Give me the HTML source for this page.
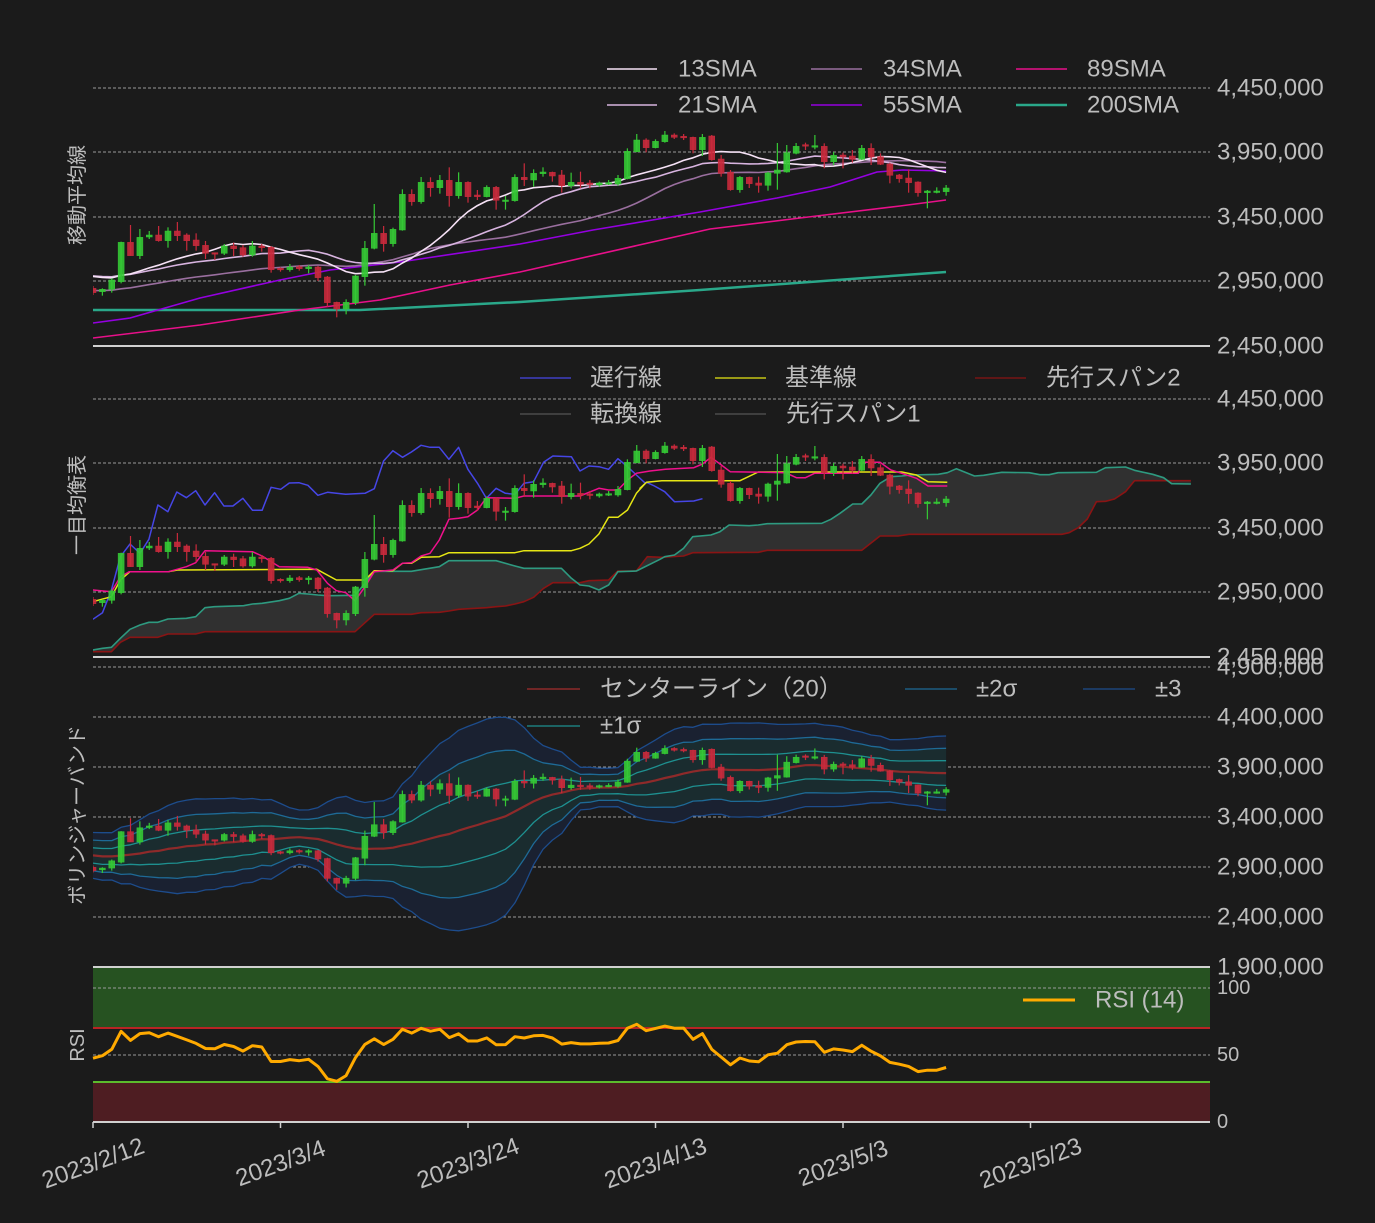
<!DOCTYPE html>
<html><head><meta charset="utf-8">
<style>
html,body{margin:0;padding:0;background:#1b1b1b;}
svg{display:block;}
text{font-family:"Liberation Sans","Noto Sans CJK JP",sans-serif;fill:#bdbdbd;}
</style></head>
<body>
<svg id="s" width="1375" height="1223" xmlns="http://www.w3.org/2000/svg"></svg>
<script>
const S=document.getElementById('s');let h='';
const X0=93,DX=9.375;
function p1(y){return 4450000-(y-88)*2e6/258}
function y1(p){return 88+(4450000-p)*258/2e6}
function y2(p){return 399+(4450000-p)*258/2e6}
function y3(p){return 667+(4900000-p)/1e4}
const Z1=[[445,458,438,465,'r'],[448,455,445,467,'g'],[420,448,415,458,'g'],[307,425,305,430,'g'],[307,347,255,347,'r'],[292,347,267,357,'g'],[285,291,273,297,'g'],[285,302,258,305,'r'],[273,302,262,323,'g'],[273,287,246,303,'r'],[285,302,280,332,'r'],[300,317,280,332,'r'],[316,340,303,357,'r'],[338,341,338,360,'r'],[318,340,312,345,'g'],[318,326,308,348,'r'],[323,345,315,350,'r'],[318,345,303,350,'g'],[318,323,312,335,'r'],[322,389,318,398,'r'],[385,389,382,395,'r'],[381,389,372,395,'g'],[380,386,375,392,'r'],[381,386,375,400,'g'],[381,413,378,423,'r'],[411,488,408,500,'r'],[487,507,485,532,'r'],[487,507,478,523,'g'],[408,488,405,495,'g'],[325,410,303,437,'g'],[280,325,192,328,'g'],[280,311,258,335,'r'],[268,311,263,320,'g'],[163,270,148,272,'g'],[163,185,148,197,'r'],[127,185,111,191,'g'],[127,143,112,170,'r'],[121,143,105,161,'g'],[121,167,82,200,'r'],[127,167,97,176,'g'],[127,170,124,188,'r'],[165,170,150,180,'r'],[142,170,136,172,'g'],[142,181,138,209,'r'],[180,182,168,209,'g']];
const Z2=[[172,242,163,245,'g'],[172,179,130,198,'r'],[160,180,148,200,'g'],[156,161,142,170,'g'],[157,168,155,185,'r'],[165,197,150,218,'r'],[187,197,158,205,'g'],[187,193,155,205,'r'],[189,193,180,205,'r'],[189,195,185,200,'g'],[188,190,180,195,'g'],[175,192,165,197,'g'],[94,176,85,178,'g'],[60,95,42,97,'g'],[60,83,55,97,'r'],[64,83,58,85,'g'],[45,65,33,68,'g'],[45,52,40,57,'r'],[49,51,42,60,'r'],[52,89,50,100,'r'],[52,89,42,108,'g'],[48,119,45,122,'r'],[117,160,105,170,'r'],[157,209,150,212,'r'],[172,209,168,218,'g'],[172,191,170,204,'r'],[189,196,170,218,'r'],[159,196,155,212,'g'],[150,160,69,209,'g'],[98,156,75,158,'g'],[79,100,69,103,'g'],[74,76,68,90,'r'],[77,79,45,88,'g'],[79,125,70,145,'r'],[106,125,96,135,'g'],[105,111,98,145,'r'],[108,118,90,128,'r'],[85,118,75,120,'g'],[85,111,70,135,'r'],[110,133,100,135,'r'],[132,166,128,190,'r'],[165,176,162,188,'r'],[174,188,148,218,'r'],[186,218,184,230,'r'],[213,218,210,265,'g'],[213,215,202,220,'g'],[204,215,195,227,'g']];
const C=[];
Z1.forEach(a=>C.push({t:p1(140+a[0]/3),b:p1(140+a[1]/3),hi:p1(140+a[2]/3),lo:p1(140+a[3]/3),g:a[4]=='g'}));
Z2.forEach(a=>C.push({t:p1(120+a[0]/3),b:p1(120+a[1]/3),hi:p1(120+a[2]/3),lo:p1(120+a[3]/3),g:a[4]=='g'}));
C.forEach(c=>{c.c=c.g?c.t:c.b;});
const N=C.length, xs=i=>X0+i*DX;
function pl(pts,col,w,extra){return `<polyline fill="none" stroke="${col}" stroke-width="${w}" stroke-linejoin="round" ${extra||''} points="${pts.map(p=>p[0].toFixed(1)+','+p[1].toFixed(1)).join(' ')}"/>`;}
function grid(y){return `<line x1="93" x2="1210" y1="${y}" y2="${y}" stroke="#9a9a9a" stroke-width="1" stroke-dasharray="3,2"/>`;}
function candles(yf){let s='';C.forEach((c,i)=>{const x=xs(i),col=c.g?'#35c935':'#c92a3c';
 s+=`<line x1="${x}" x2="${x}" y1="${yf(c.hi)}" y2="${yf(c.lo)}" stroke="${col}" stroke-width="1.2"/>`;
 let a=yf(c.t),b=yf(c.b);if(b-a<1.5)b=a+1.5;
 s+=`<rect x="${x-3}" y="${a}" width="6" height="${b-a}" fill="${col}" stroke="${col}" stroke-width="0.5" fill-opacity="0.9"/>`;});return s;}
function sma(n,P){const o=[];for(let i=0;i<N;i++){let s=0;for(let j=i-n+1;j<=i;j++)s+=j<0?P:C[j].c;o.push(s/n);}return o;}
[88,152,217,281].forEach(y=>h+=grid(y));
[399,463,528,592].forEach(y=>h+=grid(y));
[667,717,767,817,867,917].forEach(y=>h+=grid(y));
h+='<clipPath id="c1"><rect x="93" y="40" width="1117" height="306"/></clipPath><g clip-path="url(#c1)">';
h+=pl([[93,310],[300,310],[360,310],[520,302],[700,290],[946,272]],'#2aa88a',2.5);
h+=pl([[93,338],[200,325],[300,310],[380,300],[450,285],[520,272],[710,229],[800,218],[900,206],[946,200]],'#e8108a',1.6);
h+=pl([[93,323],[130,318],[200,298],[280,280],[330,270],[400,262],[520,244],[593,230],[700,212],[777,198],[830,187],[877,172],[903,170],[946,171]],'#9400e0',1.6);
[[34,2.88e6,'#9a6f9f'],[21,3.0e6,'#d8b4e0'],[13,3.0e6,'#f6e2f6']].forEach(([n,P,col])=>{const s=sma(n,P);h+=pl(s.map((v,i)=>[xs(i),y1(v)]),col,1.6);});
h+=candles(y1);
h+='</g>';
h+='<line x1="93" x2="1210" y1="346" y2="346" stroke="#d0d0d0" stroke-width="2"/>';
const z3=a=>a.map(p=>[90+p[0]/2.8,430+p[1]/3]), z4=a=>a.map(p=>[640+p[0]/2.75,430+p[1]/3]);
const sp1=z3([[8,660],[35,655],[60,652],[85,625],[112,598],[140,585],[165,577],[190,577],[218,567],[270,565],[296,560],[322,533],[348,530],[430,527],[455,522],[482,520],[530,512],[558,505],[585,490],[610,492],[638,495],[665,497],[742,496],[770,460],[796,424],[848,424],[900,424],[927,419],[978,410],[1005,392],[1137,392],[1190,408],[1215,415],[1320,415],[1348,445],[1372,465],[1397,468],[1425,480],[1452,465],[1478,425],[1530,423]]).concat(z4([[55,388],[68,380],[95,375],[120,355],[145,320],[195,315],[220,305],[245,285],[300,287],[325,285],[350,281],[500,280],[525,268],[550,250],[585,222],[610,222],[635,195],[660,160],[690,140],[720,138],[745,135],[820,133],[845,128],[870,116],[920,138],[945,136],[995,127],[1070,128],[1100,134],[1125,134],[1150,128],[1255,127],[1280,113],[1335,111],[1360,121],[1410,133],[1440,143],[1462,161],[1515,162]]));
const sp2=z3([[8,665],[60,665],[85,637],[112,622],[190,622],[218,612],[296,612],[322,605],[742,605],[796,553],[900,553],[927,548],[978,547],[1005,543],[1032,538],[1110,533],[1137,530],[1163,528],[1190,522],[1215,515],[1242,502],[1270,475],[1296,458],[1372,458],[1397,452],[1452,450],[1478,423],[1530,423]]).concat(z4([[20,380],[60,382],[120,378],[145,368],[325,367],[350,361],[610,361],[660,318],[710,318],[740,313],[1160,313],[1180,308],[1205,293],[1230,267],[1255,215],[1280,214],[1305,207],[1335,185],[1360,152],[1515,152]]));
const tenkan=z3([[8,480],[60,485],[85,440],[110,425],[220,425],[270,410],[296,398],[322,362],[455,365],[482,378],[530,410],[610,412],[635,420],[665,460],[690,482],[716,488],[742,512],[770,470],[796,425],[848,420],[875,400],[900,398],[927,378],[952,370],[978,330],[1005,268],[1032,265],[1058,260],[1085,240],[1110,203],[1190,205],[1215,198],[1372,198],[1425,175],[1452,180],[1478,180],[1505,150],[1530,130],[1568,123]]).concat(z4([[70,118],[148,113],[172,102],[195,82],[220,102],[248,125],[400,128],[430,143],[455,143],[480,130],[600,130],[612,97],[660,97],[690,120],[720,130],[760,145],[792,168],[845,168]]));
const kijun=z3([[8,515],[60,500],[85,450],[112,425],[220,425],[245,420],[635,418],[690,450],[770,450],[796,422],[848,422],[875,400],[900,400],[927,382],[978,380],[1005,368],[1190,368],[1215,362],[1348,362],[1372,355],[1397,342],[1425,312],[1452,262],[1478,262],[1505,240],[1530,190],[1555,160]]).concat(z4([[0,175],[18,157],[60,152],[275,152],[325,126],[720,126],[760,135],[792,155],[845,157]]));
const chikou=z3([[8,568],[35,548],[60,480],[85,380],[112,342],[140,370],[165,328],[190,225],[218,245],[243,186],[270,203],[296,182],[322,225],[349,188],[375,228],[400,228],[428,205],[455,241],[482,241],[507,172],[534,178],[558,159],[585,158],[610,166],[638,196],[665,187],[690,190],[716,193],[770,190],[796,176],[822,93],[848,62],[875,82],[900,66],[927,46],[952,52],[978,52],[1005,88],[1032,52],[1058,118],[1085,160],[1110,205],[1137,175],[1163,190],[1190,193],[1215,160],[1242,155],[1270,97],[1296,78],[1348,80],[1372,123],[1397,108],[1425,110],[1452,118],[1478,86],[1505,110],[1530,135],[1555,160]]).concat(z4([[0,175],[18,157],[40,168],[68,185],[95,215],[148,213],[172,206]]));
h+='<clipPath id="c2"><rect x="93" y="360" width="1117" height="297"/></clipPath><g clip-path="url(#c2)">';
h+=`<polygon fill="#303030" points="${sp1.concat(sp2.slice().reverse()).map(p=>p[0].toFixed(1)+','+p[1].toFixed(1)).join(' ')}"/>`;
h+=pl(sp2,'#8a1414',1.6)+pl(sp1,'#2e9a80',1.6);
h+=pl(chikou,'#4646e6',1.5);
h+=pl(kijun,'#e6e614',1.5);
h+=pl(tenkan,'#f0108c',1.5);
h+=candles(y2);
h+='</g><line x1="93" x2="1210" y1="657" y2="657" stroke="#d0d0d0" stroke-width="2"/>';
function padv(k){return 3.02e6+((k&1)?70000:-70000);}
const mid=[],sd=[];
for(let i=0;i<N;i++){let v=[];for(let j=i-19;j<=i;j++)v.push(j<0?padv(-j):C[j].c);const m=v.reduce((a,b)=>a+b)/20;const s=Math.sqrt(v.reduce((a,b)=>a+(b-m)*(b-m),0)/20);mid.push(m);sd.push(s);}
const band=k=>mid.map((m,i)=>[xs(i),y3(m+k*sd[i])]);
function area(a,b,f){return `<polygon fill="${f}" points="${a.concat(b.slice().reverse()).map(p=>p[0].toFixed(1)+','+p[1].toFixed(1)).join(' ')}"/>`;}
h+='<clipPath id="c3"><rect x="93" y="667" width="1117" height="300"/></clipPath><g clip-path="url(#c3)">';
h+=area(band(3),band(-3),'#1a2131');
h+=area(band(2),band(-2),'#1a2c2f');
h+=pl(band(3),'#1d4c8c',1.3)+pl(band(-3),'#1d4c8c',1.3);
h+=pl(band(2),'#1e6a96',1.3)+pl(band(-2),'#1e6a96',1.3);
h+=pl(band(1),'#1e9090',1.3)+pl(band(-1),'#1e9090',1.3);
h+=pl(mid.map((m,i)=>[xs(i),y3(m)]),'#8e2a2a',2.2);
h+=candles(y3);
h+='</g>';
h+='<rect x="93" y="967" width="1117" height="61" fill="#265221"/>';
h+='<rect x="93" y="1082" width="1117" height="40" fill="#4e1d22"/>';
[988,1055].forEach(y=>h+=grid(y));
h+='<line x1="93" x2="1210" y1="1028" y2="1028" stroke="#b82424" stroke-width="2"/>';
h+='<line x1="93" x2="1210" y1="1082" y2="1082" stroke="#5cbc2c" stroke-width="2"/>';
let ag=28000,al=28000,prev=2.9e6;const rsi=[];
for(let i=0;i<N;i++){const d=C[i].c-prev;prev=C[i].c;ag=(ag*13+Math.max(d,0))/14;al=(al*13+Math.max(-d,0))/14;rsi.push(100-100/(1+ag/al));}
h+=pl(rsi.map((v,i)=>[xs(i),1122-v*1.34]),'#ffaa00',3);
h+='<line x1="93" x2="1210" y1="967" y2="967" stroke="#d0d0d0" stroke-width="2"/>';
h+='<line x1="93" x2="1210" y1="1122" y2="1122" stroke="#d0d0d0" stroke-width="2"/>';
function yl(t,y,fs){h+=`<text x="1217" y="${y}" font-size="${fs||24}" dominant-baseline="central">${t}</text>`;}
[['4,450,000',88],['3,950,000',152],['3,450,000',217],['2,950,000',281],['2,450,000',346],['4,450,000',399],['3,950,000',463],['3,450,000',528],['2,950,000',592],['2,450,000',657],['4,900,000',667],['4,400,000',717],['3,900,000',767],['3,400,000',817],['2,900,000',867],['2,400,000',917],['1,900,000',967]].forEach(a=>yl(a[0],a[1]));
yl('100',988,20);yl('50',1055,20);yl('0',1122,20);
[['2023/2/12',93],['2023/3/4',280.5],['2023/3/24',468],['2023/4/13',655.5],['2023/5/3',843],['2023/5/23',1030.5]].forEach(([t,x])=>{h+=`<line x1="${x}" x2="${x}" y1="1122" y2="1128" stroke="#d0d0d0" stroke-width="1.5"/>`;h+=`<text x="${x}" y="1171" font-size="24" text-anchor="middle" transform="rotate(-20 ${x} 1163)">${t}</text>`;});
function vt(t,y){h+=`<text x="84" y="${y}" font-size="20" text-anchor="middle" transform="rotate(-90 84 ${y})">${t}</text>`;}
vt('移動平均線',195);vt('一目均衡表',505);vt('ボリンジャーバンド',815);vt('RSI',1045);
function lg(x1,x2,y,col,w,tx,t){h+=`<line x1="${x1}" x2="${x2}" y1="${y}" y2="${y}" stroke="${col}" stroke-width="${w}"/><text x="${tx}" y="${y}" font-size="24" dominant-baseline="central">${t}</text>`;}
lg(607,657,69,'#f6e2f6',1.5,678,'13SMA');lg(811,862,69,'#9a6f9f',1.5,883,'34SMA');lg(1016,1067,69,'#e8108a',1.5,1087,'89SMA');
lg(607,657,105,'#d8b4e0',1.5,678,'21SMA');lg(811,862,105,'#9400e0',1.5,883,'55SMA');lg(1016,1067,105,'#2aa88a',2.5,1087,'200SMA');
lg(520,571,378,'#4646e6',1.2,590,'遅行線');lg(715,766,378,'#e6e614',1.2,785,'基準線');lg(975,1026,378,'#8a1414',1.2,1046,'先行スパン2');
lg(520,571,414,'#555',1.2,590,'転換線');lg(715,766,414,'#555',1.2,786,'先行スパン1');
lg(527,580,689,'#8e2a2a',1.5,600,'センターライン（20）');lg(905,957,689,'#1e6a96',1.2,976,'±2σ');lg(1083,1135,689,'#1d4c8c',1.2,1155,'±3');
lg(527,580,726,'#1e9090',1.2,600,'±1σ');
lg(1023,1075,1000,'#ffaa00',3,1095,'RSI (14)');
S.innerHTML=h;
</script>
</body></html>
